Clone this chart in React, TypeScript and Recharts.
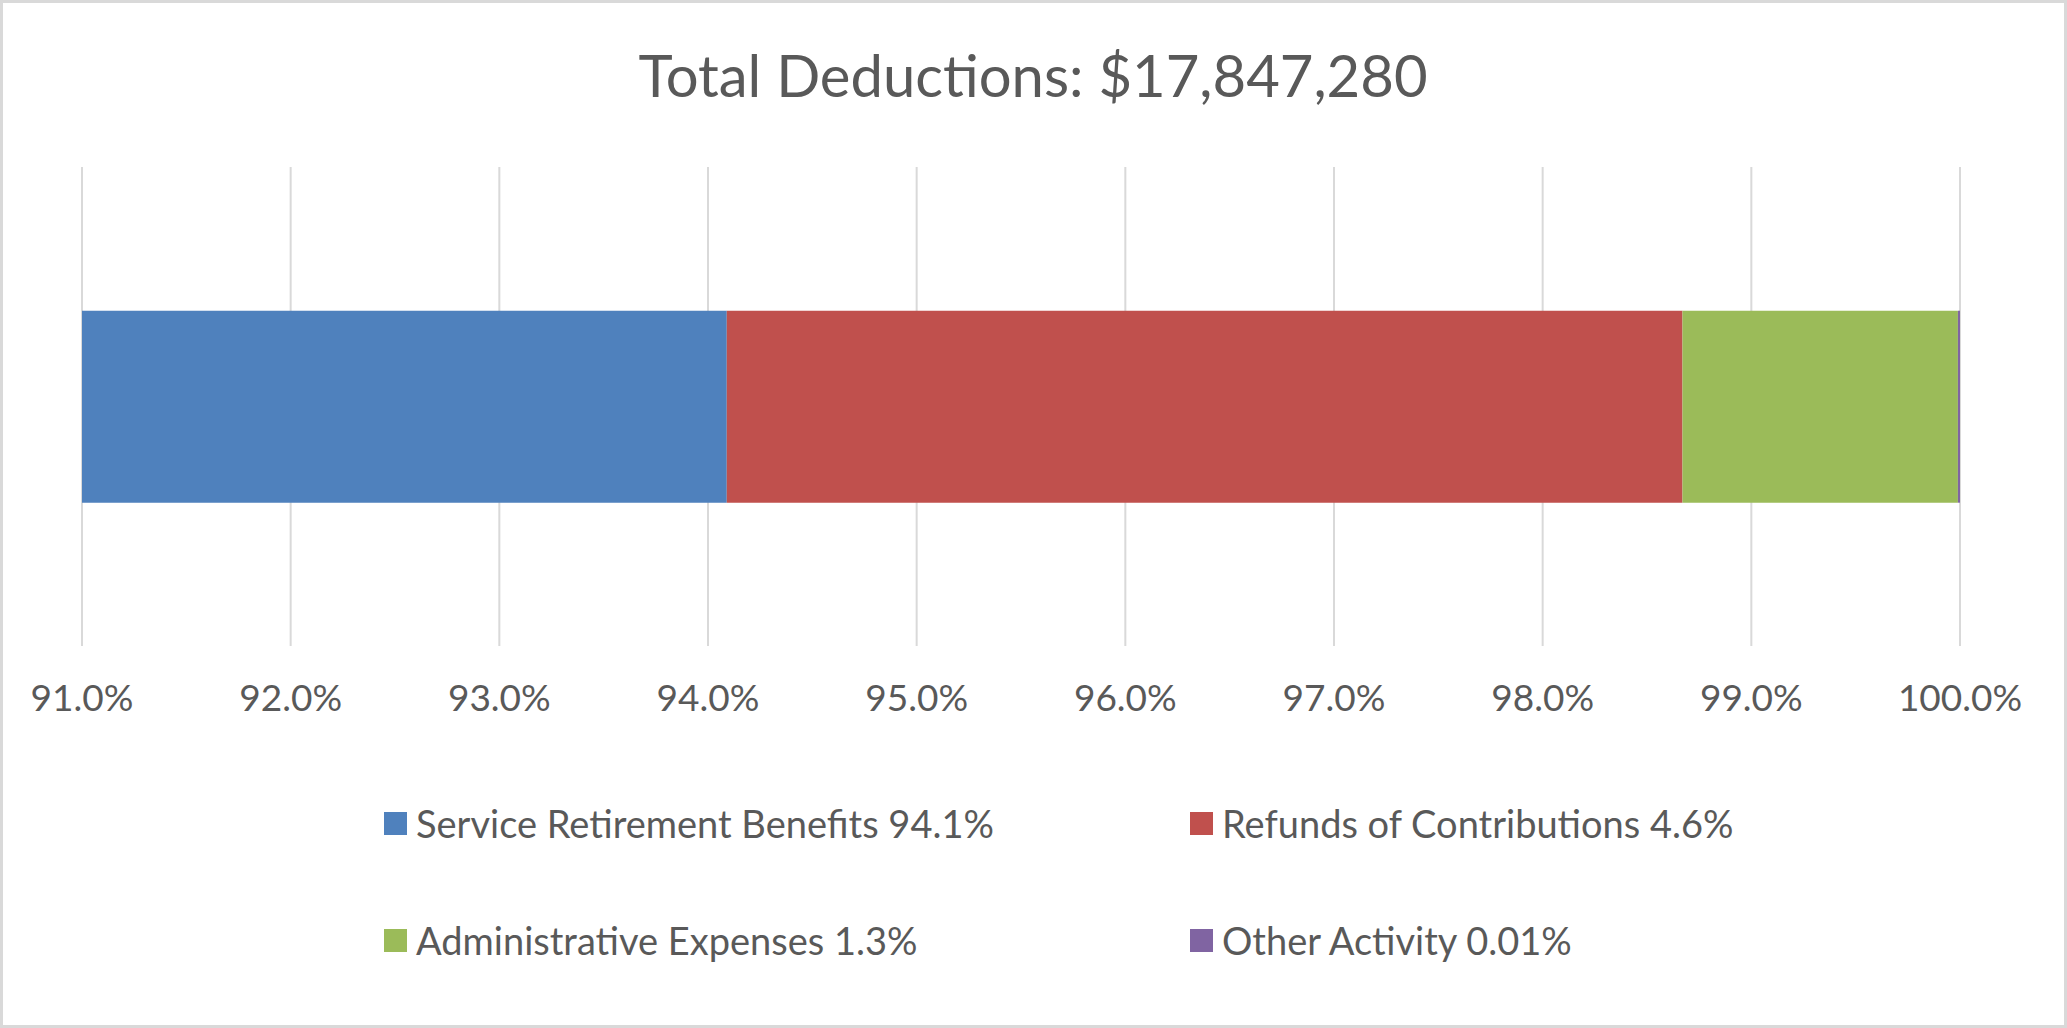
import { BarChart, Bar, XAxis, YAxis, CartesianGrid, Legend } from 'recharts';

const categories = ['Total Deductions'];
const seriesKeys = ['service', 'refunds', 'admin', 'other'];
const seriesNames = [
  'Service Retirement Benefits',
  'Refunds of Contributions',
  'Administrative Expenses',
  'Other Activity',
];
// share of total deductions, in percent
const seriesValues = [94.09, 4.58, 1.32, 0.01];
const legendShares = ['94.1%', '4.6%', '1.3%', '0.01%'];
const xTicks = [91, 92, 93, 94, 95, 96, 97, 98, 99, 100];

const COLORS = ['#4F81BD', '#C0504D', '#9BBB59', '#8064A2'];
const TEXT = '#595959';
const FONT = 'Lato, "Open Sans", sans-serif';

const data = categories.map(name => {
  const row: Record<string, string | number> = { name };
  seriesKeys.forEach((k, i) => {
    row[k] = seriesValues[i];
  });
  return row;
});

// legend grid: two columns, two rows (page coordinates relative to legend box)
const LEGEND_TOP = 790;
const legendCols = [384, 1190];
const legendRows = [33, 150];

function renderLegend() {
  return (
    <div style={{ position: 'relative', width: 2067, height: 200 }}>
      {seriesNames.map((name, i) => (
        <div
          key={name}
          style={{
            position: 'absolute',
            left: legendCols[i % 2],
            top: legendRows[Math.floor(i / 2)] - 23,
            height: 46,
            display: 'flex',
            alignItems: 'center',
            whiteSpace: 'nowrap',
          }}
        >
          <span style={{ width: 23, height: 23, background: COLORS[i], marginRight: 9, display: 'inline-block' }} />
          <span style={{ fontFamily: FONT, fontSize: 38, lineHeight: '46px', color: TEXT }}>
            {name} {legendShares[i]}
          </span>
        </div>
      ))}
    </div>
  );
}

export default function App() {
  return (
    <div style={{ position: 'absolute', left: 0, top: 0, width: 2067, height: 1028, background: '#fff' }}>
      <BarChart
        width={2067}
        height={1028}
        data={data}
        layout="vertical"
        margin={{ top: 167, right: 107, bottom: 322, left: 82 }}
        barCategoryGap="30%"
      >
        <CartesianGrid horizontal={false} stroke="#D9D9D9" strokeWidth={2} />
        <XAxis
          type="number"
          domain={[91, 100]}
          allowDataOverflow
          ticks={xTicks}
          tickFormatter={(v: number) => `${v.toFixed(1)}%`}
          height={60}
          axisLine={false}
          tickLine={false}
          tickSize={0}
          tickMargin={39}
          tick={{ fill: TEXT, fontSize: 37, fontFamily: FONT }}
        />
        <YAxis type="category" dataKey="name" hide />
        {seriesKeys.map((k, i) => (
          <Bar key={k} dataKey={k} name={seriesNames[i]} stackId="a" fill={COLORS[i]} isAnimationActive={false} />
        ))}
        <Legend
          layout="horizontal"
          verticalAlign="middle"
          align="center"
          wrapperStyle={{ top: LEGEND_TOP, left: 0, width: 2067 }}
          content={renderLegend}
        />
      </BarChart>
      <svg width={2067} height={1028} style={{ position: 'absolute', left: 0, top: 0, pointerEvents: 'none' }}>
        <text x={1033} y={97} textAnchor="middle" fill={TEXT} fontSize={58} fontFamily={FONT}>
          Total Deductions: $17,847,280
        </text>
        <rect x={1.5} y={1.5} width={2064} height={1025} fill="none" stroke="#D9D9D9" strokeWidth={3} />
      </svg>
    </div>
  );
}
